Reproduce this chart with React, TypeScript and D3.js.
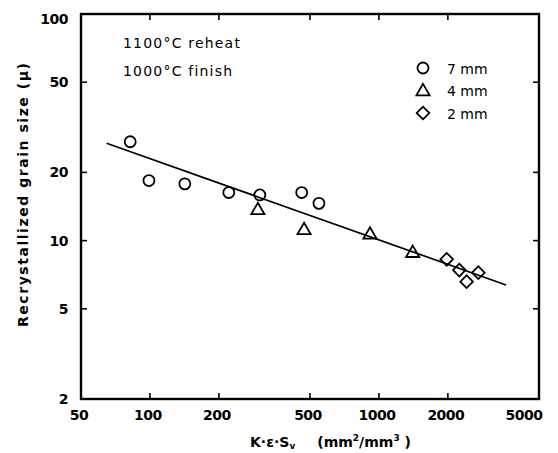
import * as d3 from 'd3';

const xTicks = [50, 100, 200, 500, 1000, 2000, 5000];
const yTicks = [2, 5, 10, 20, 50, 100];

// 7 mm plate
const circleX = [82, 99, 142, 221, 302, 460, 547];
const circleY = [27.3, 18.4, 17.8, 16.3, 15.9, 16.3, 14.6];
// 4 mm plate
const triX = [296, 471, 914, 1404];
const triY = [13.6, 11.1, 10.6, 8.8];
// 2 mm plate
const diaX = [1977, 2244, 2415, 2717];
const diaY = [8.27, 7.41, 6.59, 7.22];

// fitted line end points
const fitX = [64.7, 3590];
const fitY = [26.9, 6.37];

const legend = ['7 mm', '4 mm', '2 mm'];

const width = 558;
const height = 453;
const margin = { top: 14, right: 19, bottom: 54, left: 81 };
const font = '"DejaVu Sans", sans-serif';

const circlePath = d3.symbol(d3.symbolCircle, 95)();
const triPath = d3.symbol(d3.symbolTriangle, 75)();
const diaPath = d3.symbol(d3.symbolSquare, 80)();

export default function App() {
  const x = d3
    .scaleLog()
    .domain([50, 5000])
    .range([margin.left, width - margin.right]);
  const y = d3
    .scaleLog()
    .domain([2, 100])
    .range([height - margin.bottom, margin.top]);

  const x0 = x.range()[0];
  const x1 = x.range()[1];
  const y0 = y.range()[0];
  const y1 = y.range()[1];
  const tk = 6;

  const line = d3
    .line<number>()
    .x((d) => x(d))
    .y((_, i) => y(fitY[i]));

  const markStyle = { fill: 'none', stroke: '#000', strokeWidth: 1.8 };

  return (
    <svg width={width} height={height} style={{ display: 'block', position: 'absolute', left: 0, top: 0 }}>
      <rect width={width} height={height} fill="#fff" />

      {/* frame */}
      <rect x={x0} y={y1} width={x1 - x0} height={y0 - y1} fill="none" stroke="#000" strokeWidth={2.4} />

      {/* inner ticks */}
      {xTicks.slice(1, -1).map((t) => (
        <g key={'xt' + t} stroke="#000" strokeWidth={1.6}>
          <line x1={x(t)} x2={x(t)} y1={y0} y2={y0 - tk} />
          <line x1={x(t)} x2={x(t)} y1={y1} y2={y1 + tk} />
        </g>
      ))}
      {yTicks.slice(1, -1).map((t) => (
        <g key={'yt' + t} stroke="#000" strokeWidth={1.6}>
          <line x1={x0} x2={x0 + tk} y1={y(t)} y2={y(t)} />
          <line x1={x1} x2={x1 - tk} y1={y(t)} y2={y(t)} />
        </g>
      ))}

      {/* tick labels */}
      {xTicks.map((t, i) => (
        <text
          key={'xl' + t}
          x={i === xTicks.length - 1 ? x(t) - 15 : x(t) - 2}
          y={y0 + 21}
          textAnchor="middle"
          fontFamily={font}
          fontWeight="bold"
          fontSize={14}
          letterSpacing={-0.5}
        >
          {t}
        </text>
      ))}
      {yTicks.map((t, i) => (
        <text
          key={'yl' + t}
          x={x0 - 13}
          y={y(t) + (i === yTicks.length - 1 ? 10 : 5)}
          textAnchor="end"
          fontFamily={font}
          fontWeight="bold"
          fontSize={14}
          letterSpacing={-0.5}
        >
          {t}
        </text>
      ))}

      {/* axis titles */}
      <text x={250} y={447} fontFamily={font} fontWeight="bold" fontSize={14}>
        K·ε·S
        <tspan fontSize={9} dy={2}>v</tspan>
        <tspan dy={-2} dx={22}>(mm</tspan>
        <tspan fontSize={9} dy={-6}>2</tspan>
        <tspan dy={6}>/mm</tspan>
        <tspan fontSize={9} dy={-6}>3</tspan>
        <tspan dy={6}> )</tspan>
      </text>
      <text
        transform="translate(28,195) rotate(-90)"
        textAnchor="middle"
        fontFamily={font}
        fontWeight="bold"
        fontSize={14}
        textLength={264}
        lengthAdjust="spacing"
      >
        Recrystallized  grain  size  (μ)
      </text>

      {/* annotation */}
      <text x={123} y={48} fontFamily={font} fontSize={14} letterSpacing={1.2}>
        1100°C reheat
      </text>
      <text x={123} y={76} fontFamily={font} fontSize={14} letterSpacing={1.2}>
        1000°C finish
      </text>

      {/* legend */}
      {legend.map((lab, i) => (
        <g key={lab} transform={`translate(423,${68 + i * 22.5})`}>
          <path
            d={i === 0 ? circlePath : i === 1 ? triPath : diaPath}
            transform={i === 2 ? 'rotate(45)' : i === 1 ? 'translate(0,1)' : undefined}
            {...markStyle}
          />
          <text x={24} y={5.5} fontFamily={font} fontSize={14}>
            {lab}
          </text>
        </g>
      ))}

      {/* fit line */}
      <path d={line(fitX) ?? ''} fill="none" stroke="#000" strokeWidth={1.7} />

      {/* data */}
      {circleX.map((v, i) => (
        <path key={'c' + i} d={circlePath} transform={`translate(${x(v)},${y(circleY[i])})`} {...markStyle} />
      ))}
      {triX.map((v, i) => (
        <path key={'t' + i} d={triPath} transform={`translate(${x(v)},${y(triY[i])})`} {...markStyle} />
      ))}
      {diaX.map((v, i) => (
        <path key={'d' + i} d={diaPath} transform={`translate(${x(v)},${y(diaY[i])}) rotate(45)`} {...markStyle} />
      ))}
    </svg>
  );
}
